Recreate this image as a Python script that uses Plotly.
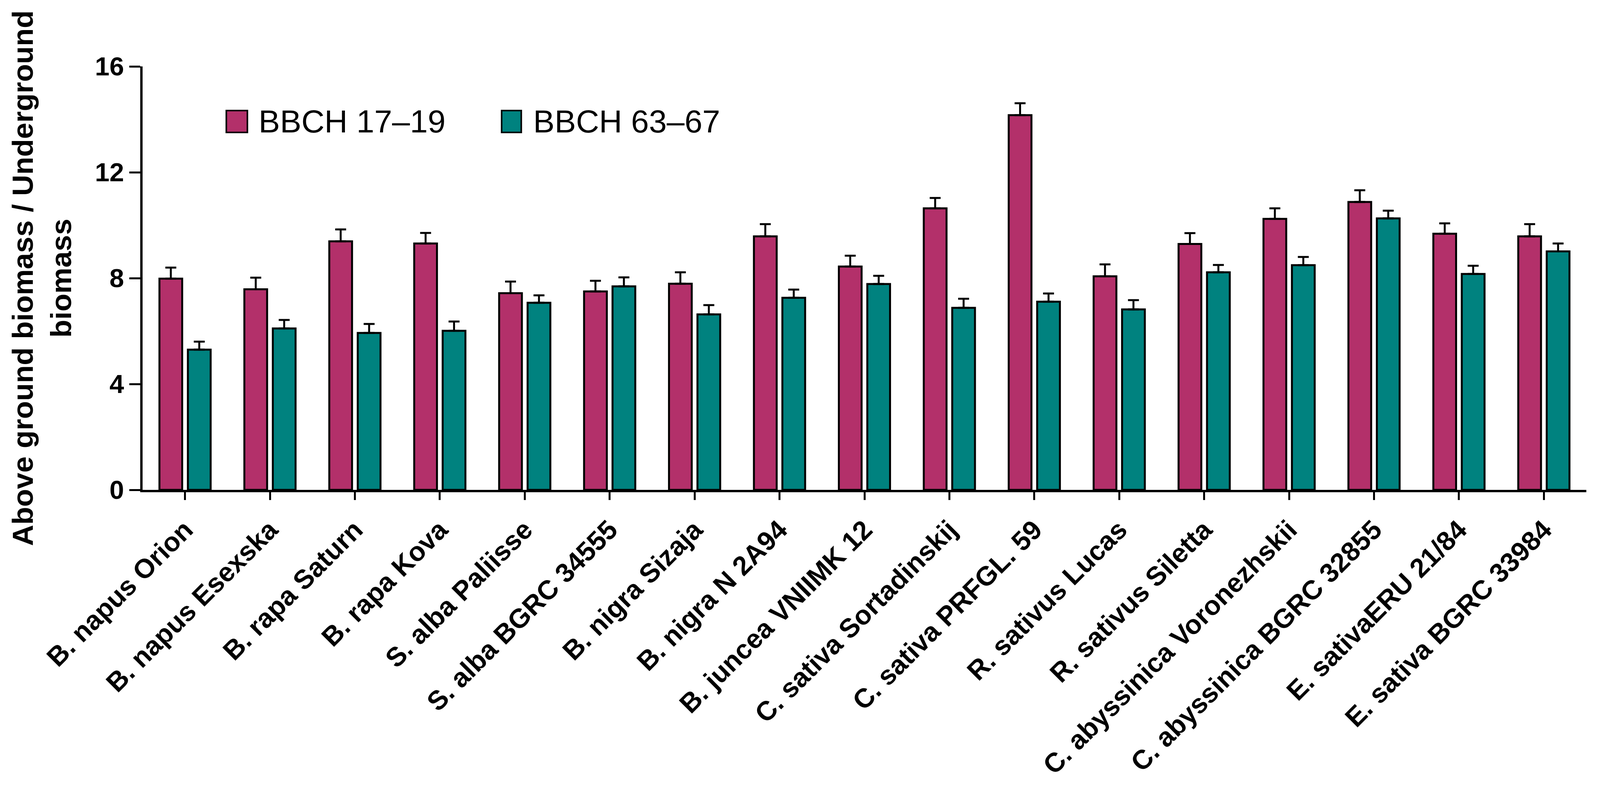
import plotly.graph_objects as go

categories = [
    "B. napus Orion", "B. napus Esexska", "B. rapa Saturn", "B. rapa Kova",
    "S. alba Paliisse", "S. alba BGRC 34555", "B. nigra Sizaja", "B. nigra N 2A94",
    "B. juncea VNIIMK 12", "C. sativa Sortadinskij", "C. sativa PRFGL. 59",
    "R. sativus Lucas", "R. sativus Siletta", "C. abyssinica Voronezhskii",
    "C. abyssinica BGRC 32855", "E. sativaERU 21/84", "E. sativa BGRC 33984",
]
series_names = ["BBCH 17\u201319", "BBCH 63\u201367"]
bbch_17_19 = [7.98, 7.58, 9.39, 9.31, 7.43, 7.50, 7.79, 9.58, 8.44, 10.64, 14.16,
              8.07, 9.29, 10.24, 10.88, 9.68, 9.58]
bbch_17_19_err = [0.42, 0.44, 0.45, 0.40, 0.44, 0.40, 0.43, 0.46, 0.41, 0.39, 0.45,
                  0.45, 0.41, 0.40, 0.44, 0.39, 0.46]
bbch_63_67 = [5.30, 6.10, 5.93, 6.01, 7.07, 7.69, 6.63, 7.26, 7.78, 6.88, 7.11,
              6.82, 8.22, 8.49, 10.26, 8.16, 9.01]
bbch_63_67_err = [0.30, 0.32, 0.34, 0.35, 0.28, 0.34, 0.35, 0.31, 0.31, 0.34, 0.31,
                  0.35, 0.28, 0.31, 0.29, 0.31, 0.30]
y_ticks = [0, 4, 8, 12, 16]
y_title = "Above ground biomass / Underground<br>biomass"

PINK = "#B3306A"
TEAL = "#00827F"
FONT = "Liberation Sans"

# the browser viewport is 4096 px wide
W, H = 4096, 2076
ML, MR, MT, MB = 365, 35, 170, 822

fig = go.Figure()
for name, vals, errs, col in [
    (series_names[0], bbch_17_19, bbch_17_19_err, PINK),
    (series_names[1], bbch_63_67, bbch_63_67_err, TEAL),
]:
    fig.add_trace(go.Bar(
        x=categories, y=vals, name=name, showlegend=False,
        marker=dict(color=col, line=dict(color="black", width=5)),
        error_y=dict(type="data", array=errs, symmetric=False, arrayminus=[0] * len(errs),
                     color="black", thickness=5, width=14),
    ))

# legend drawn as swatches + text (paper coordinates)
legend_items = [
    (series_names[0], PINK, 0.058, 0.0726, 0.0797),
    (series_names[1], TEAL, 0.2487, 0.2623, 0.2699),
]
for text, col, x0, x1, xt in legend_items:
    fig.add_shape(type="rect", xref="paper", yref="paper", x0=x0, x1=x1,
                  y0=0.844, y1=0.8958, fillcolor=col, line=dict(color="black", width=4))
    fig.add_annotation(xref="paper", yref="paper", x=xt, y=0.870, text=text,
                       showarrow=False, xanchor="left", yanchor="middle",
                       font=dict(family=FONT, size=82, color="black"))

fig.update_layout(
    width=W, height=H,
    margin=dict(l=ML, r=MR, t=MT, b=MB, autoexpand=False),
    paper_bgcolor="white", plot_bgcolor="white",
    barmode="group", bargap=0.33, bargroupgap=0.2,
    font=dict(family=FONT, color="black"),
)
fig.update_xaxes(
    range=[-0.5, 16.5], showline=True, linecolor="black", linewidth=6,
    ticks="outside", ticklen=20, tickwidth=5, tickcolor="black",
    tickangle=-45, tickfont=dict(family=FONT, size=69, color="black", weight="bold"),
    showgrid=False, zeroline=False, automargin=False, ticklabelstandoff=8,
)
fig.update_yaxes(
    range=[0, 16], tickvals=y_ticks, showline=True, linecolor="black", linewidth=6,
    ticks="outside", ticklen=28, tickwidth=5, tickcolor="black",
    tickfont=dict(family=FONT, size=67, color="black", weight="bold"),
    showgrid=False, zeroline=False, automargin=False,
    title=dict(text=y_title, font=dict(family=FONT, size=75, color="black", weight="bold"),
               standoff=38),
)

fig.write_html("out.html", config={"displayModeBar": False},
               post_script="document.body.style.margin='0';")
